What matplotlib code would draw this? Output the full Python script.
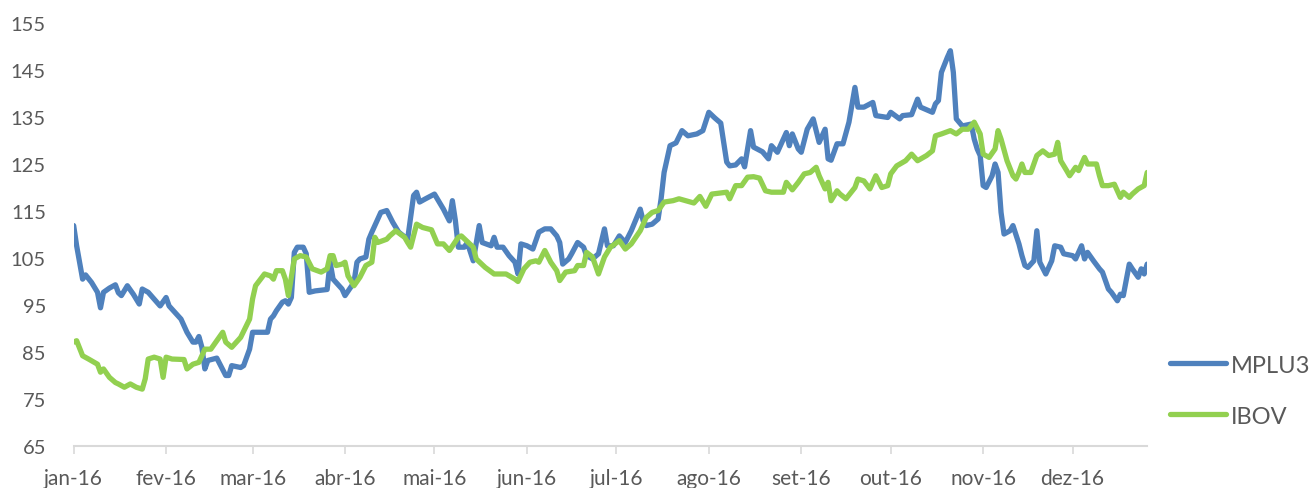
import matplotlib
matplotlib.use("Agg")
import matplotlib.pyplot as plt
import pandas as pd

# values (index, base ~100)
mplu3_dates = [
    "2016-01-04", "2016-01-05", "2016-01-07", "2016-01-08", "2016-01-10", "2016-01-12", "2016-01-13",
    "2016-01-14", "2016-01-16", "2016-01-18", "2016-01-19", "2016-01-20", "2016-01-22", "2016-01-24",
    "2016-01-26", "2016-01-27", "2016-01-29", "2016-02-02", "2016-02-04", "2016-02-05", "2016-02-09",
    "2016-02-11", "2016-02-13", "2016-02-14", "2016-02-15", "2016-02-16", "2016-02-17", "2016-02-18",
    "2016-02-21", "2016-02-24", "2016-02-25", "2016-02-26", "2016-02-29", "2016-03-01", "2016-03-03",
    "2016-03-04", "2016-03-09", "2016-03-10", "2016-03-11", "2016-03-12", "2016-03-14", "2016-03-15",
    "2016-03-16", "2016-03-17", "2016-03-18", "2016-03-19", "2016-03-21", "2016-03-22", "2016-03-23",
    "2016-03-25", "2016-03-29", "2016-03-30", "2016-03-31", "2016-04-03", "2016-04-04", "2016-04-07",
    "2016-04-08", "2016-04-09", "2016-04-11", "2016-04-12", "2016-04-13", "2016-04-15", "2016-04-16",
    "2016-04-18", "2016-04-20", "2016-04-22", "2016-04-25", "2016-04-27", "2016-04-28", "2016-04-29",
    "2016-05-01", "2016-05-04", "2016-05-07", "2016-05-09", "2016-05-10", "2016-05-11", "2016-05-12",
    "2016-05-14", "2016-05-15", "2016-05-17", "2016-05-19", "2016-05-20", "2016-05-23", "2016-05-24",
    "2016-05-25", "2016-05-27", "2016-05-29", "2016-05-31", "2016-06-01", "2016-06-02", "2016-06-04",
    "2016-06-06", "2016-06-08", "2016-06-10", "2016-06-12", "2016-06-14", "2016-06-15", "2016-06-16",
    "2016-06-18", "2016-06-19", "2016-06-21", "2016-06-23", "2016-06-24", "2016-06-26", "2016-06-28",
    "2016-06-30", "2016-07-01", "2016-07-03", "2016-07-05", "2016-07-07", "2016-07-09", "2016-07-12",
    "2016-07-13", "2016-07-14", "2016-07-16", "2016-07-18", "2016-07-19", "2016-07-20", "2016-07-22",
    "2016-07-24", "2016-07-26", "2016-07-28", "2016-07-31", "2016-08-02", "2016-08-04", "2016-08-06",
    "2016-08-08", "2016-08-10", "2016-08-11", "2016-08-13", "2016-08-15", "2016-08-16", "2016-08-18",
    "2016-08-19", "2016-08-22", "2016-08-24", "2016-08-25", "2016-08-27", "2016-08-30", "2016-08-31",
    "2016-09-01", "2016-09-03", "2016-09-04", "2016-09-06", "2016-09-08", "2016-09-10", "2016-09-12",
    "2016-09-13", "2016-09-14", "2016-09-16", "2016-09-18", "2016-09-20", "2016-09-22", "2016-09-23",
    "2016-09-25", "2016-09-28", "2016-09-29", "2016-10-03", "2016-10-04", "2016-10-07", "2016-10-08",
    "2016-10-11", "2016-10-13", "2016-10-14", "2016-10-18", "2016-10-19", "2016-10-20", "2016-10-21",
    "2016-10-23", "2016-10-24", "2016-10-25", "2016-10-26", "2016-10-28", "2016-10-31", "2016-11-01",
    "2016-11-02", "2016-11-03", "2016-11-04", "2016-11-05", "2016-11-07", "2016-11-08", "2016-11-09",
    "2016-11-10", "2016-11-11", "2016-11-13", "2016-11-14", "2016-11-16", "2016-11-17", "2016-11-18",
    "2016-11-19", "2016-11-21", "2016-11-22", "2016-11-23", "2016-11-25", "2016-11-27", "2016-11-28",
    "2016-11-30", "2016-12-01", "2016-12-04", "2016-12-05", "2016-12-07", "2016-12-08", "2016-12-09",
    "2016-12-11", "2016-12-13", "2016-12-14", "2016-12-16", "2016-12-17", "2016-12-19", "2016-12-20",
    "2016-12-21", "2016-12-23", "2016-12-24", "2016-12-26", "2016-12-27", "2016-12-28", "2016-12-29",
]
mplu3_values = [
    111.9, 107.6, 100.5, 101.4, 99.8, 97.7, 94.4,
    97.7, 98.6, 99.3, 97.6, 97.0, 99.1, 97.3,
    95.2, 98.4, 97.7, 94.8, 96.6, 94.8, 92.0,
    89.2, 87.1, 87.1, 88.3, 86.0, 81.4, 83.2,
    83.7, 80.0, 80.0, 82.1, 81.7, 82.1, 85.6,
    89.2, 89.2, 92.0, 92.7, 93.8, 95.6, 95.9,
    95.2, 96.6, 106.2, 107.3, 107.3, 105.9, 97.7,
    98.0, 98.3, 104.1, 100.5, 98.4, 97.0, 99.8,
    104.1, 104.8, 105.2, 109.0, 110.5, 113.3, 114.7,
    115.1, 112.6, 110.5, 109.0, 118.3, 119.0, 116.9,
    117.6, 118.6, 115.4, 112.9, 117.2, 113.0, 107.3,
    107.3, 108.3, 104.4, 111.9, 108.3, 107.6, 109.4,
    107.3, 107.3, 105.5, 104.1, 101.6, 108.0, 107.6,
    106.9, 110.5, 111.2, 111.2, 109.7, 108.3, 103.7,
    104.8, 105.9, 108.3, 107.3, 105.5, 104.8, 105.9,
    111.2, 107.6, 107.6, 109.7, 108.3, 110.8, 115.4,
    112.9, 111.9, 112.2, 113.3, 117.6, 123.2, 128.9,
    129.5, 132.1, 131.0, 131.4, 132.1, 136.0, 134.8,
    133.7, 125.4, 124.6, 124.8, 126.1, 124.4, 132.1,
    128.6, 127.6, 126.1, 128.9, 127.5, 131.7, 128.9,
    131.4, 128.2, 127.5, 132.4, 134.6, 129.6, 132.4,
    126.1, 125.8, 129.3, 129.3, 133.9, 141.3, 137.1,
    137.1, 138.1, 135.3, 134.9, 136.0, 134.6, 135.3,
    135.5, 138.8, 137.1, 136.0, 137.8, 138.5, 144.5,
    147.7, 149.1, 144.5, 134.6, 133.1, 133.5, 130.3,
    128.2, 126.8, 120.4, 120.0, 122.5, 125.0, 123.2,
    114.7, 110.1, 110.8, 111.9, 108.0, 105.5, 103.4,
    103.0, 104.4, 110.8, 104.1, 101.6, 104.4, 107.6,
    107.3, 105.9, 105.5, 104.8, 107.6, 104.8, 106.2,
    104.4, 102.7, 102.0, 98.4, 97.7, 95.9, 97.3,
    97.0, 103.7, 102.7, 100.9, 102.7, 101.6, 103.7,
]

ibov_dates = [
    "2016-01-04", "2016-01-05", "2016-01-07", "2016-01-09", "2016-01-12", "2016-01-13", "2016-01-14",
    "2016-01-16", "2016-01-18", "2016-01-19", "2016-01-21", "2016-01-23", "2016-01-25", "2016-01-27",
    "2016-01-28", "2016-01-29", "2016-01-31", "2016-02-02", "2016-02-03", "2016-02-04", "2016-02-06",
    "2016-02-10", "2016-02-11", "2016-02-13", "2016-02-15", "2016-02-17", "2016-02-19", "2016-02-23",
    "2016-02-24", "2016-02-26", "2016-02-29", "2016-03-03", "2016-03-04", "2016-03-05", "2016-03-08",
    "2016-03-10", "2016-03-11", "2016-03-12", "2016-03-14", "2016-03-15", "2016-03-16", "2016-03-18",
    "2016-03-20", "2016-03-22", "2016-03-24", "2016-03-27", "2016-03-29", "2016-03-30", "2016-03-31",
    "2016-04-01", "2016-04-03", "2016-04-04", "2016-04-05", "2016-04-07", "2016-04-09", "2016-04-11",
    "2016-04-13", "2016-04-14", "2016-04-15", "2016-04-18", "2016-04-19", "2016-04-21", "2016-04-24",
    "2016-04-25", "2016-04-26", "2016-04-28", "2016-04-30", "2016-05-03", "2016-05-05", "2016-05-07",
    "2016-05-09", "2016-05-12", "2016-05-13", "2016-05-17", "2016-05-18", "2016-05-21", "2016-05-24",
    "2016-05-28", "2016-05-31", "2016-06-01", "2016-06-03", "2016-06-05", "2016-06-07", "2016-06-08",
    "2016-06-10", "2016-06-12", "2016-06-14", "2016-06-15", "2016-06-17", "2016-06-20", "2016-06-21",
    "2016-06-23", "2016-06-24", "2016-06-26", "2016-06-27", "2016-06-28", "2016-06-30", "2016-07-02",
    "2016-07-05", "2016-07-07", "2016-07-09", "2016-07-12", "2016-07-14", "2016-07-16", "2016-07-18",
    "2016-07-20", "2016-07-23", "2016-07-25", "2016-07-30", "2016-08-01", "2016-08-03", "2016-08-05",
    "2016-08-10", "2016-08-11", "2016-08-13", "2016-08-15", "2016-08-17", "2016-08-19", "2016-08-21",
    "2016-08-23", "2016-08-25", "2016-08-29", "2016-08-30", "2016-09-01", "2016-09-03", "2016-09-05",
    "2016-09-07", "2016-09-09", "2016-09-10", "2016-09-12", "2016-09-13", "2016-09-14", "2016-09-16",
    "2016-09-17", "2016-09-19", "2016-09-22", "2016-09-23", "2016-09-25", "2016-09-27", "2016-09-29",
    "2016-10-01", "2016-10-03", "2016-10-04", "2016-10-06", "2016-10-09", "2016-10-11", "2016-10-13",
    "2016-10-16", "2016-10-18", "2016-10-19", "2016-10-21", "2016-10-24", "2016-10-26", "2016-10-28",
    "2016-10-30", "2016-11-01", "2016-11-03", "2016-11-04", "2016-11-06", "2016-11-08", "2016-11-09",
    "2016-11-10", "2016-11-12", "2016-11-14", "2016-11-15", "2016-11-16", "2016-11-17", "2016-11-18",
    "2016-11-20", "2016-11-22", "2016-11-24", "2016-11-26", "2016-11-28", "2016-11-29", "2016-11-30",
    "2016-12-02", "2016-12-03", "2016-12-05", "2016-12-06", "2016-12-08", "2016-12-09", "2016-12-12",
    "2016-12-13", "2016-12-14", "2016-12-16", "2016-12-18", "2016-12-20", "2016-12-21", "2016-12-23",
    "2016-12-24", "2016-12-26", "2016-12-28", "2016-12-29",
]
ibov_values = [
    87.1, 87.4, 84.2, 83.5, 82.4, 80.7, 81.4,
    79.6, 78.5, 78.2, 77.5, 78.2, 77.5, 77.1,
    79.3, 83.5, 83.9, 83.5, 79.6, 83.9, 83.5,
    83.4, 81.4, 82.4, 82.8, 85.6, 85.6, 89.2,
    87.1, 86.0, 88.1, 92.0, 96.3, 99.1, 101.6,
    101.2, 100.5, 102.3, 102.3, 100.5, 97.0, 104.8,
    105.5, 105.2, 102.7, 102.0, 102.7, 105.5, 105.5,
    103.4, 103.7, 104.1, 101.2, 99.1, 100.9, 103.4,
    104.1, 109.4, 108.3, 109.0, 109.7, 110.8, 109.4,
    108.3, 107.3, 112.2, 111.5, 111.0, 108.0, 108.0,
    106.6, 109.4, 109.7, 107.3, 104.8, 103.0, 101.6,
    101.6, 100.5, 100.0, 102.7, 104.1, 104.4, 104.1,
    106.6, 104.1, 102.3, 100.2, 102.0, 102.3, 103.4,
    103.4, 106.2, 105.2, 103.4, 101.6, 105.2, 107.3,
    108.7, 106.9, 108.0, 110.8, 113.6, 114.7, 115.1,
    116.9, 117.2, 117.6, 116.7, 118.1, 116.0, 118.6,
    119.0, 117.6, 120.4, 120.4, 122.2, 122.3, 122.0,
    119.3, 119.0, 119.0, 121.1, 119.5, 121.1, 122.9,
    123.2, 124.3, 122.5, 119.7, 121.1, 117.2, 119.3,
    118.6, 117.6, 120.0, 121.8, 121.4, 119.7, 122.5,
    120.0, 120.4, 122.9, 124.6, 125.7, 127.1, 125.7,
    126.8, 127.8, 131.0, 131.4, 132.1, 131.4, 132.4,
    132.4, 133.9, 131.4, 127.1, 126.4, 128.2, 132.1,
    130.3, 125.7, 122.5, 121.8, 123.2, 125.0, 123.2,
    123.2, 126.8, 127.8, 126.8, 127.1, 129.6, 125.7,
    123.6, 122.5, 124.3, 123.6, 126.4, 125.0, 125.0,
    122.5, 120.4, 120.4, 120.7, 117.9, 119.0, 117.9,
    118.6, 119.7, 120.4, 123.2,
]

series_names = ["MPLU3", "IBOV"]
series_colors = ["#4f81bd", "#92d050"]
month_labels = ["jan-16", "fev-16", "mar-16", "abr-16", "mai-16", "jun-16",
                "jul-16", "ago-16", "set-16", "out-16", "nov-16", "dez-16"]
y_ticks = [65, 75, 85, 95, 105, 115, 125, 135, 145, 155]

plt.rcParams["font.family"] = ["Lato", "DejaVu Sans"]

fig = plt.figure(figsize=(13.13, 4.89), dpi=100)
ax = fig.add_axes([0.0561, 0.0859, 0.8176, 0.865])

d1 = pd.to_datetime(mplu3_dates)
d2 = pd.to_datetime(ibov_dates)
ax.plot(d1, mplu3_values, color=series_colors[0], lw=3.8, label=series_names[0],
        solid_joinstyle="round", solid_capstyle="round")
ax.plot(d2, ibov_values, color=series_colors[1], lw=3.8, label=series_names[1],
        solid_joinstyle="round", solid_capstyle="round")

start = d1[0]
end = d1[-1]
ax.set_xlim(start, end)
ax.set_ylim(y_ticks[0], y_ticks[-1])

# excel date axis: ticks every month counted from the first date
ticks = [start + pd.DateOffset(months=i) for i in range(len(month_labels))]
ax.set_xticks(ticks)
ax.set_xticklabels(month_labels)
ax.set_yticks(y_ticks)

for side in ["top", "right", "left"]:
    ax.spines[side].set_visible(False)
ax.spines["bottom"].set_color("#d9d9d9")
ax.spines["bottom"].set_linewidth(1.5)
ax.tick_params(axis="x", colors="#d9d9d9", length=6, width=1.2, pad=10,
               labelcolor="#595959", labelsize=15)
ax.tick_params(axis="y", length=0, pad=20, labelcolor="#595959", labelsize=14.5)

leg = ax.legend(loc="center left", bbox_to_anchor=(0.891, 0.199), bbox_transform=fig.transFigure,
                frameon=False, fontsize=17, handlelength=2.37, handletextpad=0.22,
                labelspacing=1.27, borderpad=0, borderaxespad=0, labelcolor="#595959")
for line in leg.get_lines():
    line.set_solid_capstyle("round")

fig.savefig("out.png", dpi=100)
